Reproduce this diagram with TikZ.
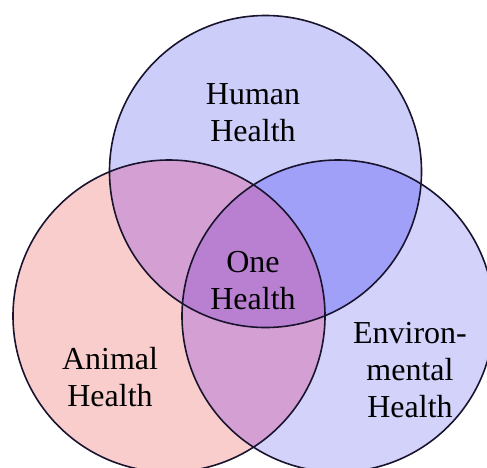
\documentclass[tikz,border=0pt]{standalone}
\usepackage{fontspec}
\setmainfont{Liberation Serif}
\definecolor{animalc}{RGB}{250,205,205}
\definecolor{humanc}{RGB}{205,205,250}
\definecolor{envc}{RGB}{210,210,250}
\definecolor{hac}{RGB}{212,160,212}
\definecolor{hec}{RGB}{160,160,248}
\definecolor{aec}{RGB}{212,160,212}
\definecolor{allc}{RGB}{185,128,210}
\definecolor{edgec}{RGB}{25,20,45}
\tikzset{
  lbl/.style={align=center, font=\fontsize{32}{37}\selectfont, text=black, inner sep=0pt},
  ring/.style={draw=edgec, line width=1.6pt}
}
\begin{document}
\begin{tikzpicture}[x=1pt,y=-1pt]
\useasboundingbox (0,0) rectangle (487,467);
\fill[white] (0,0) rectangle (487,467);
\clip (0,0) rectangle (487,467);
\coordinate (H) at (265.5,171.5);
\coordinate (A) at (169,316);
\coordinate (E) at (338,316);
\def\rr{156}
% base fills
\fill[animalc] (A) circle (\rr);
\fill[envc] (E) circle (\rr);
\fill[humanc] (H) circle (\rr);
% pairwise
\begin{scope}
  \clip (H) circle (\rr);
  \fill[hac] (A) circle (\rr);
\end{scope}
\begin{scope}
  \clip (H) circle (\rr);
  \fill[hec] (E) circle (\rr);
\end{scope}
\begin{scope}
  \clip (A) circle (\rr);
  \fill[aec] (E) circle (\rr);
\end{scope}
\begin{scope}
  \clip (A) circle (\rr);
  \clip (E) circle (\rr);
  \fill[allc] (H) circle (\rr);
\end{scope}
% outlines
\draw[ring] (H) circle (\rr);
\draw[ring] (A) circle (\rr);
\draw[ring] (E) circle (\rr);
% labels
\node[lbl] (human) at (253,113) {Human\\Health};
\node[lbl] (one) at (253,281) {One\\Health};
\node[lbl] (animal) at (110,377) {Animal\\Health};
\node[lbl] (env) at (410,370) {Environ-\\mental\\Health};
\end{tikzpicture}
\end{document}
